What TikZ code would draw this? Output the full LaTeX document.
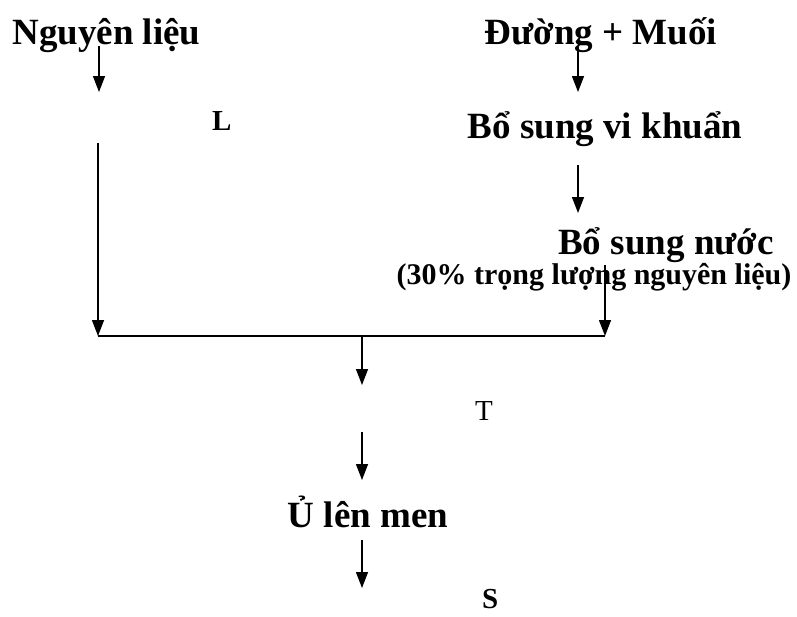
\documentclass[tikz,border=0pt]{standalone}
\usepackage{fontspec}
\setmainfont{Liberation Serif}
\usetikzlibrary{arrows.meta}
\tikzset{
  big/.style={font=\fontsize{37}{40}\selectfont\bfseries, inner sep=0pt, anchor=base},
  small/.style={font=\fontsize{30}{32}\selectfont\bfseries, inner sep=0pt, anchor=base},
  lbl/.style={font=\fontsize{29}{30}\selectfont, inner sep=0pt, anchor=base west},
  flow/.style={line width=1.4pt, -{Triangle[width=12pt,length=16pt]}},
  plain/.style={line width=1.4pt}
}
\begin{document}
\begin{tikzpicture}[x=1pt,y=-1pt]
\useasboundingbox (0,0) rectangle (797,616);
% texts
\node[big] (ngl) at (106.5,44) {Nguyên liệu};
\node[big] (dm) at (601,44) {Đường + Muối};
\node[big] (bsvk) at (605,138) {Bổ sung vi khuẩn};
\node[big] (bsn) at (666,254) {Bổ sung nước};
\node[small] (pct) at (594,284) {(30\% trọng lượng nguyên liệu)};
\node[big] (ulm) at (368,527) {Ủ lên men};
\node[lbl] (L) at (212,130) {\textbf{L}};
\node[lbl] (T) at (475,420) {T};
\node[lbl] (S) at (482,608) {\textbf{S}};
% coordinates
\coordinate (a1s) at (99,46);
\coordinate (a1e) at (99,92);
\coordinate (a2s) at (98,143);
\coordinate (jl) at (98,336);
\coordinate (jr) at (605,336);
\coordinate (jm) at (362,336);
\coordinate (a3e) at (362,385);
\coordinate (b1s) at (578,47);
\coordinate (b1e) at (578,92);
\coordinate (b2s) at (578,165);
\coordinate (b2e) at (578,213);
\coordinate (b3s) at (605,265);
\coordinate (c1s) at (362,432);
\coordinate (c1e) at (362,480);
\coordinate (c2s) at (362,540);
\coordinate (c2e) at (362,588);
% connectors
\draw[flow] (a1s) -- (a1e);
\draw[flow] (a2s) -- (jl);
\draw[flow] (b1s) -- (b1e);
\draw[flow] (b2s) -- (b2e);
\draw[flow] (b3s) -- (jr);
\draw[plain] (jl) -- (jr);
\draw[flow] (jm) -- (a3e);
\draw[flow] (c1s) -- (c1e);
\draw[flow] (c2s) -- (c2e);
\end{tikzpicture}
\end{document}
